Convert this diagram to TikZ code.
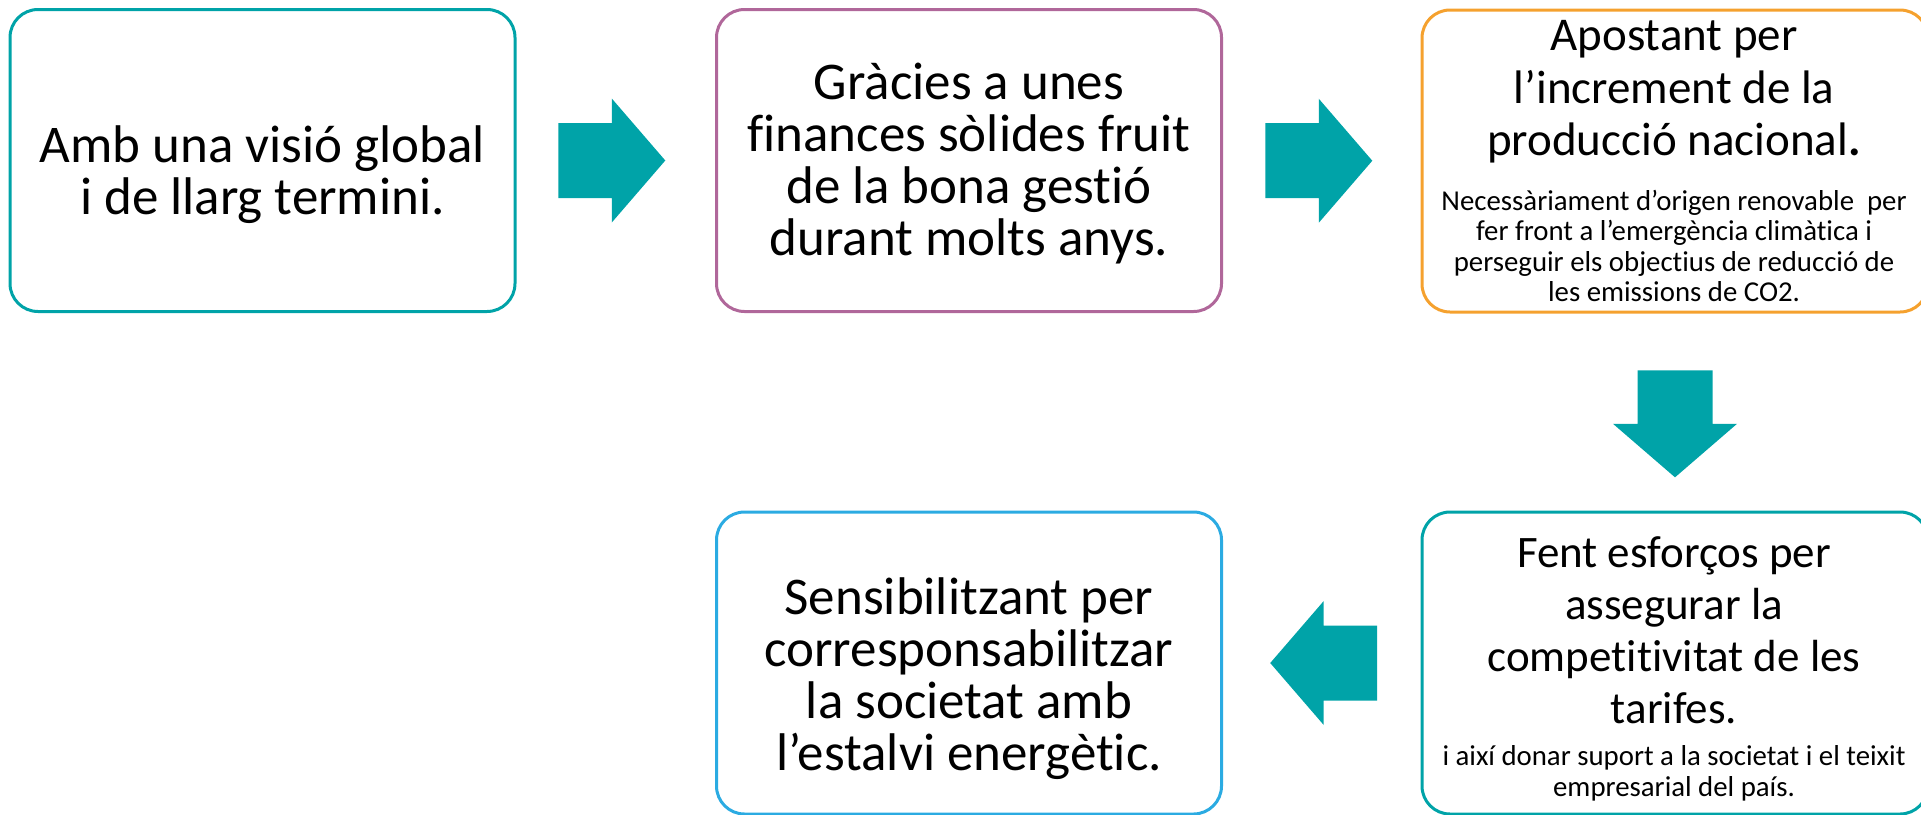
\documentclass[tikz,border=0pt]{standalone}
\usepackage{fontspec}
\setmainfont{Carlito}[Ligatures=NoCommon]
\usetikzlibrary{positioning,calc}

\definecolor{turquesa}{HTML}{00A3A8}
\definecolor{malva}{HTML}{B0679A}
\definecolor{taronja}{HTML}{F5A12E}
\definecolor{blau}{HTML}{2BABE2}

\tikzset{
  caixa/.style={draw, line width=1.5pt, rounded corners=14pt, minimum width=252.5pt, minimum height=151pt, inner sep=0pt},
  gran/.style={font=\fontsize{26.5}{26}\selectfont, align=center, inner sep=0pt},
  mitja/.style={font=\fontsize{23.5}{26.25}\selectfont, align=center, inner sep=0pt},
  petit/.style={font=\fontsize{14.4}{15.2}\selectfont, align=center, inner sep=0pt},
  pics/fletxa/.style={code={
    \fill[turquesa] (-53.5,-37.5) -- (0,-37.5) -- (0,-62) -- (53.5,0) -- (0,62) -- (0,37.5) -- (-53.5,37.5) -- cycle;
  }}
}

\begin{document}
\begin{tikzpicture}[x=0.5pt,y=-0.5pt]
\useasboundingbox (0,0) rectangle (1921,814);
\clip (0,0) rectangle (1921,814);
% caixes
\node[caixa, draw=turquesa] (b1) at (262.5,160.5) {};
\node[caixa, draw=malva] (b2) at (969,160.5) {};
\node[caixa, draw=taronja, minimum width=253pt] (b3) at (1675,161) {};
\node[caixa, draw=blau] (b4) at (969,663) {};
\node[caixa, draw=turquesa, minimum width=253pt] (b5) at (1675,663) {};
% textos
\node[gran] (t1) at ([yshift=-6.9pt]b1.center) {Amb una visió global\\ i de llarg termini.};
\node[gran] (t2) at ([yshift=-1.5pt]b2.center) {Gràcies a unes\\ finances sòlides fruit\\ de la bona gestió\\ durant molts anys.};
\node[gran] (t4) at ([yshift=-8pt]b4.center) {Sensibilitzant per\\ corresponsabilitzar\\ la societat amb\\ l’estalvi energètic.};
\node[mitja, anchor=north] (t3) at (1674,20) {Apostant per\\ l’increment de la\\ producció nacional\textbf{.}};
\node[petit, below=13pt of t3] (n3) {Necessàriament d’origen renovable\ \ per\\ fer front a l’emergència climàtica i\\ perseguir els objectius de reducció de\\ les emissions de CO2.};
\node[mitja, font=\fontsize{22.5}{26}\selectfont, anchor=north] (t5) at (1674,536) {Fent esforços per\\ assegurar la\\ competitivitat de les\\ tarifes.};
\node[petit, below=10.7pt of t5] (n5) {i així donar suport a la societat i el teixit\\ empresarial del país.};
% fletxes
\pic at ($(b1.east)!0.48!(b2.west)$) {fletxa};
\pic at ($(b2.east)!0.485!(b3.west)$) {fletxa};
\pic[rotate=-90] at ($(b3.south)!0.56!(b5.north)$) {fletxa};
\pic[rotate=180] at ($(b5.west)!0.49!(b4.east)$) {fletxa};
\end{tikzpicture}
\end{document}
